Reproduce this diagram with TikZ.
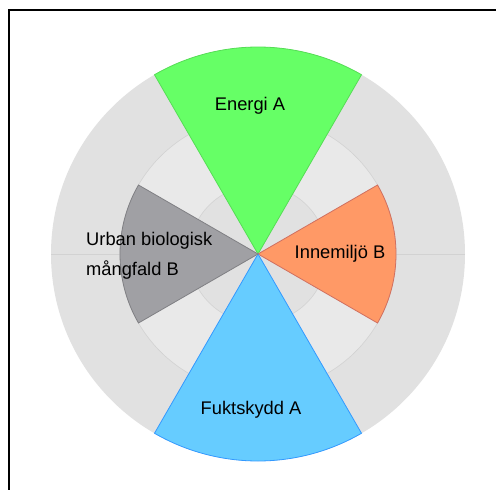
\documentclass[tikz,border=0pt]{standalone}
\usepackage{fontspec}
\setmainfont{Liberation Sans}
\definecolor{ringA}{HTML}{E1E1E1}
\definecolor{ringB}{HTML}{E9E9E9}
\definecolor{ringLine}{HTML}{D2D2D2}
\definecolor{cGreen}{HTML}{66FF66}
\definecolor{eGreen}{HTML}{55DD55}
\definecolor{cOrange}{HTML}{FF9966}
\definecolor{eOrange}{HTML}{D07060}
\definecolor{cBlue}{HTML}{66CCFF}
\definecolor{eBlue}{HTML}{3399FF}
\definecolor{cGray}{HTML}{A0A0A4}
\definecolor{eGray}{HTML}{808084}
\tikzset{
  lbl/.style={font=\fontsize{18.3}{30}\selectfont, text=black, inner sep=0pt},
  sect/.style={line width=0.8pt, line join=miter}
}
\begin{document}
\begin{tikzpicture}[x=1pt,y=-1pt]
\useasboundingbox (0,0) rectangle (496,490);
\clip (0,0) rectangle (496,490);
\fill[white] (0,0) rectangle (496,490);
\coordinate (c) at (258,254);
% rings
\fill[ringA] (c) circle (207);
\fill[ringB] (c) circle (138);
\draw[ringLine, line width=0.6pt] (c) circle (138);
\fill[ringA] (c) circle (69);
\draw[ringLine, line width=0.6pt] (c) circle (69);
\draw[ringLine, line width=0.6pt] ([xshift=-207pt]c) -- ([xshift=207pt]c);
% sectors
\draw[sect, fill=cGreen, draw=eGreen] (c) -- ++(-120:207) arc[start angle=-120, end angle=-60, radius=207] -- cycle;
\draw[sect, fill=cOrange, draw=eOrange] (c) -- ++(-30:138) arc[start angle=-30, end angle=30, radius=138] -- cycle;
\draw[sect, fill=cBlue, draw=eBlue] (c) -- ++(60:207) arc[start angle=60, end angle=120, radius=207] -- cycle;
\draw[sect, fill=cGray, draw=eGray] (c) -- ++(150:138) arc[start angle=150, end angle=210, radius=138] -- cycle;
% labels
\node[lbl] (energi) at (250,106) {Energi A};
\node[lbl] (inne) at (340,254) {Innemiljö B};
\node[lbl] (fukt) at (251,410) {Fuktskydd A};
\node[lbl, anchor=west, align=left] (urban) at (86,256) {Urban biologisk\\mångfald B};
% frame
\draw[black, line width=1.6pt] (9,10) rectangle (520,520);
\end{tikzpicture}
\end{document}
